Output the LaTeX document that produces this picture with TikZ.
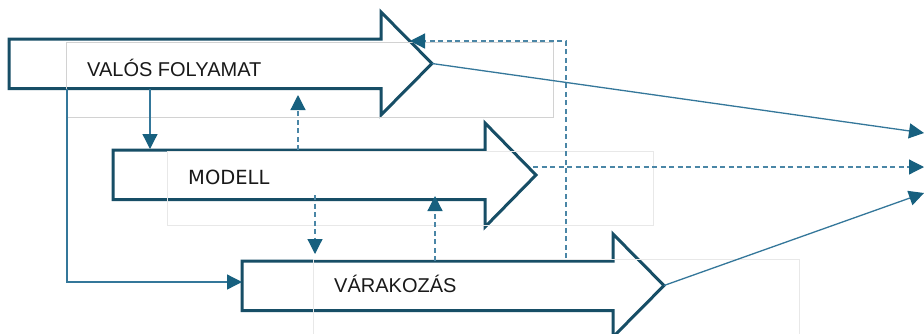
\documentclass[tikz,border=0pt]{standalone}
\usepackage{fontspec}
\setmainfont{Liberation Sans}
\newfontfamily\modelfont{DejaVu Sans}
\usetikzlibrary{arrows.meta}

\definecolor{outline}{HTML}{174E66}
\definecolor{link}{HTML}{34779A}
\definecolor{dlink}{HTML}{4A86A6}
\definecolor{tipc}{HTML}{17607F}
\definecolor{frameA}{HTML}{D2D2D2}
\definecolor{frameB}{HTML}{E8E8E8}

\tikzset{
  bigarrow/.style={draw=outline, line width=3pt, fill=white, line join=miter},
  textframe/.style={draw=#1, line width=0.9pt, fill=none},
  label/.style={anchor=base west, inner sep=0pt, text=black!90, font=\fontsize{20}{24}\selectfont},
  flow/.style={draw=link, line width=1.3pt, -{Triangle[length=15pt,width=15pt,color=tipc]}},
  dflow/.style={flow, draw=dlink, line width=1.2pt, dash pattern=on 5pt off 3.5pt}
}

\begin{document}
\begin{tikzpicture}[x=1pt,y=-1pt]
  \useasboundingbox (0,0) rectangle (924,333);
  \clip (0,0) rectangle (924,333);
  \fill[white] (0,0) rectangle (924,333);

  % ---- the three block arrows ----
  \draw[bigarrow] (9,39) -- (381,39) -- (381,12) -- (432,63.5) -- (381,115) -- (381,88.5) -- (9,88.5) -- cycle;
  \draw[bigarrow] (113,150) -- (485,150) -- (485,123) -- (536,175) -- (485,227) -- (485,199.5) -- (113,199.5) -- cycle;
  \draw[bigarrow] (242,261) -- (613,261) -- (613,234) -- (664,285.5) -- (613,337) -- (613,310.5) -- (242,310.5) -- cycle;

  % tips and edges used by the connectors
  \coordinate (realTip) at (432,63.5);
  \coordinate (modelTip) at (533,167);
  \coordinate (expTip) at (664,285.5);

  % ---- text frames and labels ----
  \draw[textframe=frameA] (66,42) rectangle (553,117);
  \draw[textframe=frameB] (167,151) rectangle (653,225);
  \draw[textframe=frameB] (313,259) rectangle (799,340);

  \node[label] (real) at (87,76) {VALÓS FOLYAMAT};
  \node[label, font=\modelfont\fontsize{19.5}{24}\selectfont] (model) at (188,184) {MODELL};
  \node[label] (exp) at (334,292) {VÁRAKOZÁS};

  % ---- connectors between the arrows ----
  \coordinate (r1) at (150,88.5);  \coordinate (m1) at (150,149);
  \coordinate (r2) at (67,88.5);   \coordinate (e2) at (242,282);
  \coordinate (m3) at (298,150);   \coordinate (r3) at (298,95);
  \coordinate (m4) at (315,195);   \coordinate (e4) at (315,254);
  \coordinate (e5) at (435,261);   \coordinate (m5) at (435,196);
  \coordinate (e6) at (566,258);   \coordinate (r6) at (410,41);

  \draw[flow] (r1) -- (m1);
  \draw[flow] (r2) |- (e2);
  \draw[dflow] (m3) -- (r3);
  \draw[dflow] (m4) -- (e4);
  \draw[dflow] (e5) -- (m5);
  \draw[dflow] (e6) |- (r6);

  % ---- outputs on the right ----
  \coordinate (o1) at (924,133);
  \coordinate (o2) at (924,167);
  \coordinate (o3) at (924,193);
  \draw[flow] (realTip) -- (o1);
  \draw[dflow] (modelTip) -- (o2);
  \draw[flow] (expTip) -- (o3);
\end{tikzpicture}
\end{document}
